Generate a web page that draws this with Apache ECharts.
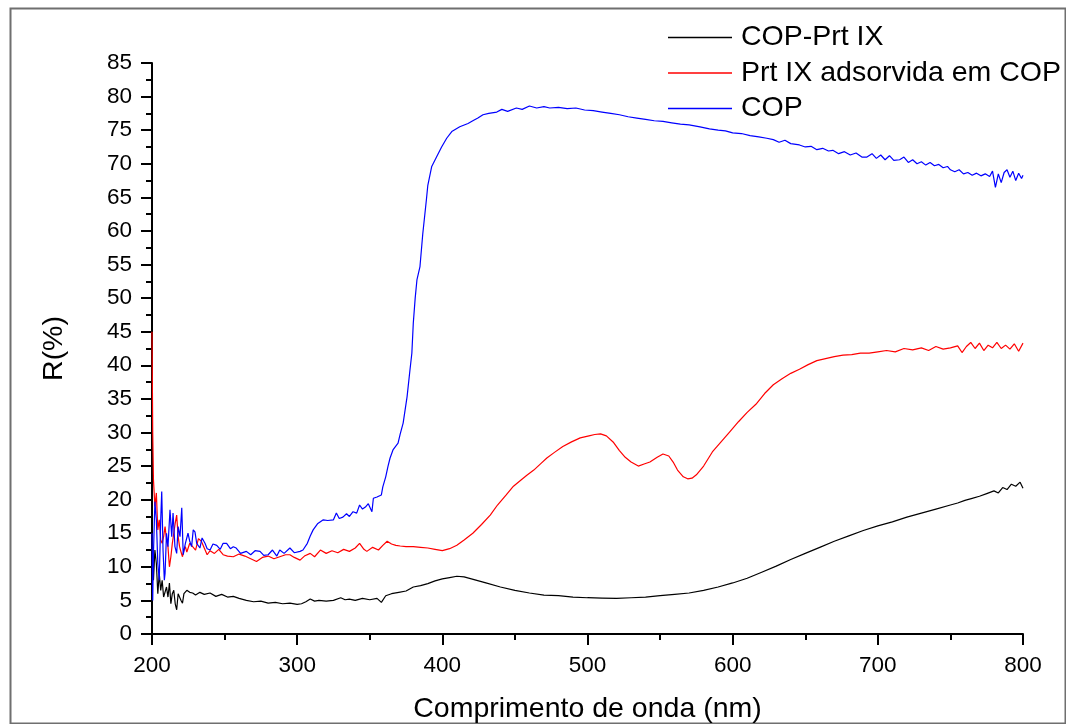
<!DOCTYPE html>
<html>
<head>
<meta charset="utf-8">
<script src="https://cdn.jsdelivr.net/npm/echarts@6/dist/echarts.min.js"></script>
<style>
html,body{margin:0;padding:0;background:#fff;}
#chart{width:1066px;height:724px;}
</style>
</head>
<body>
<div id="chart"></div>
<script>
var seriesNames = ['COP-Prt IX', 'Prt IX adsorvida em COP', 'COP'];
var xTitle = 'Comprimento de onda (nm)';
var yTitle = 'R(%)';

// COP-Prt IX (black)
var blackX = [200,201,202,203,204,205,206,207,208,209,210,211,212,213,214,215,216,217,218,219,220,221,222,224,226,228,230,233,236,240,244,248,252,256,260,265,270,275,280,285,290,295,300,303,306,309,312,315,320,325,330,333,336,340,345,350,355,358,361,365,370,375,380,385,390,395,400,405,410,415,420,425,430,440,450,460,470,480,490,500,510,520,530,540,550,560,570,580,590,600,610,620,630,640,650,660,670,680,690,700,710,720,730,740,750,755,760,765,770,775,780,783,786,789,792,795,798,800];
var blackY = [15,8,12.5,10.5,6,9,6.5,8,5.5,5.6,7,5.5,7.6,4.5,6,6.5,4.5,3.6,6,6.1,5,4.6,6,6.5,6.2,6.1,5.8,6.2,5.9,6.1,5.6,5.9,5.5,5.6,5.3,5.0,4.8,4.9,4.6,4.7,4.5,4.6,4.4,4.5,4.8,5.2,4.9,5.0,4.9,5.0,5.4,5.1,5.2,5.0,5.3,5.1,5.3,4.7,5.7,6.0,6.2,6.4,7.0,7.2,7.5,7.9,8.2,8.4,8.6,8.5,8.2,7.9,7.6,7.0,6.5,6.1,5.8,5.7,5.5,5.4,5.35,5.3,5.4,5.5,5.7,5.9,6.1,6.5,7.0,7.6,8.3,9.2,10.1,11.1,12.0,12.9,13.8,14.6,15.4,16.1,16.7,17.4,18.0,18.6,19.2,19.5,19.9,20.2,20.5,20.9,21.3,21.0,21.8,21.5,22.3,22.0,22.6,21.7];

// Prt IX adsorvida em COP (red)
var redX = [200,200.5,201,202,203,204,205,206,207,208,209,210,211,212,213,214,215,216,217,218,219,220,221,222,223,224,226,228,230,232,234,236,238,240,243,246,249,252,256,260,264,268,272,276,280,284,288,292,295,298,302,305,309,312,316,320,324,328,332,336,340,343,346,348,352,356,359,362,365,368,371,375,380,385,390,395,400,405,410,415,421,427,433,438,444,449,454,458,463,468,472,477,483,489,495,501,505,509,513,518,522,526,530,535,539,543,548,552,556,559,562,566,569,572,575,580,586,592,598,604,610,616,622,628,634,640,646,652,658,664,670,676,682,688,694,700,706,712,718,724,730,735,740,745,750,755,758,761,764,767,770,773,776,779,782,785,788,791,794,797,800];
var redY = [45,30,23,19,21,15.5,17,14,13.5,14.5,16,14,13,10,11.5,13.5,15,16.5,17.7,14.5,13,12.2,11.5,12.5,13,12.2,13.5,13,12.5,14.2,13.8,12.8,11.8,12.4,12.0,12.6,11.8,11.6,11.5,11.9,11.6,11.2,10.8,11.4,11.6,11.2,11.5,11.8,11.8,11.4,11.0,11.6,12.0,11.5,12.5,12.0,12.4,12.1,12.6,12.3,12.8,13.5,12.6,12.3,12.9,12.5,13.2,13.8,13.4,13.2,13.1,13.0,13.0,12.9,12.8,12.6,12.4,12.7,13.2,14.0,15.0,16.3,17.7,19.2,20.7,22.0,22.9,23.6,24.4,25.4,26.2,27.0,27.9,28.6,29.2,29.5,29.7,29.8,29.5,28.5,27.3,26.3,25.6,25.0,25.3,25.6,26.3,26.8,26.5,25.6,24.4,23.4,23.1,23.2,23.7,25.0,27.1,28.6,30.1,31.6,33.0,34.2,35.8,37.1,38.0,38.8,39.4,40.1,40.7,41.0,41.3,41.5,41.6,41.8,41.8,42.0,42.2,42.0,42.5,42.3,42.6,42.2,42.8,42.4,42.6,42.9,41.9,42.8,43.4,42.5,43.3,42.2,43.0,42.6,43.4,42.5,43.0,42.4,43.2,42.1,43.3];

// COP (blue)
var blueX = [200,200.5,201,202,203,204,205,206,206.7,207.6,208.5,209,210,211,212.4,213.6,214.5,215.8,217,218,219.3,220.5,221.5,223,224.8,226,227.3,228.4,229.6,230.8,233,234.5,236.5,238,240,242,244.6,247,249,251.4,254,256,258,261,265,268,271,274.4,277,280,283,286,288,291,295,298,302,304,307,309,311,314,318,321,325,327,329,331.5,334,336,338.5,341,343,345,347,349,351.5,352.5,355,358,359,361,362.6,364,366,369.5,371,373,375.7,377.7,379,380,381.3,382.5,384.6,386.5,389,390,392.7,396,399.5,403,406.5,412,417.7,421,424.5,428,432,437.5,441,445,451,455,460,465,470,474,480,486,492,498,504,510,516,522,528,534,540,546,552,558,564,570,577.5,584,590,595,600,606,612,618,623.5,628,632,636,640,646,650,654,658,662,666,669,673,677,681,685,689,692.5,696,699,702,705,708,711,715,718,721,724,727,730,733,736,739,742,745,748,750,753,756,759,762,765,768,771,774,777,779,781,783,785,787,789,791,793,795,797,799,800];
var blueY = [15,5,12,19.7,17,10.5,8,17,21.2,12.5,8,9,15,13,18.5,14.5,18,13,12,16,14.5,18.8,11.8,13.5,15,13.8,13,15.5,15.2,13.5,12.8,14.3,13.5,12.7,12.5,13.4,13.2,12.6,13.5,13.5,12.7,13.0,12.8,12.0,12.3,11.8,12.4,12.3,11.7,11.8,12.5,11.6,12.5,12.0,12.8,12.1,12.3,12.5,13.5,14.6,15.5,16.4,17.0,16.9,17.0,18.0,17.2,17.4,17.9,17.5,18.2,18.0,19.2,18.6,18.9,19.4,18.2,20.2,20.4,20.7,21.9,23.4,25.0,26.2,27.4,28.4,29.8,31.4,35.3,39.3,41.8,46.3,50,52.7,54.7,59.5,64.6,66.8,69.6,71,72.5,73.8,74.8,75.5,76,76.4,76.8,77.3,77.5,77.7,78.1,77.8,78.3,78.1,78.6,78.3,78.5,78.3,78.4,78.2,78.3,78.0,77.9,77.7,77.5,77.3,77.0,76.8,76.6,76.4,76.3,76.1,75.9,75.8,75.5,75.2,75.0,74.9,74.6,74.5,74.2,74.0,73.8,73.6,73.2,73.5,73.0,72.8,72.5,72.6,72.1,72.3,71.9,72.0,71.5,71.8,71.3,71.6,71.0,71.0,71.5,70.8,71.3,70.6,71.2,70.5,70.6,71.0,70.2,70.6,70.0,70.3,69.8,70.2,69.7,69.9,69.4,69.6,69.1,68.8,69.1,68.5,68.7,68.3,68.6,68.2,68.5,68.1,68.9,66.5,68.5,67.2,68.7,69.1,68.0,68.9,67.5,68.6,67.8,68.3];

function pairs(xs, ys){ return xs.map(function(x,i){ return [x, ys[i]]; }); }

var FONT = "'Liberation Sans', Arial, sans-serif";
var LEGEND_LINE = 'path://M0,0 L64,0 L64,1.3 L0,1.3 Z';
var chart = echarts.init(document.getElementById('chart'), null, {renderer:'canvas'});
chart.setOption({
  backgroundColor: '#ffffff',
  animation: false,
  graphic: [{
    type: 'rect', left: 8, top: 6, z: -1, silent: true,
    shape: {x: 0, y: 0, width: 1055, height: 715},
    style: {fill: 'none', stroke: '#6f6f6f', lineWidth: 2}
  }],
  grid: {left: 152, right: 43, top: 63, bottom: 90, containLabel: false, outerBoundsMode: 'none'},
  legend: {
    orient: 'vertical', left: 663, top: 18, itemWidth: 64, itemHeight: 14, itemGap: 6.5,
    icon: LEGEND_LINE,
    textStyle: {fontFamily: FONT, fontSize: 28.5, color: '#000', lineHeight: 28.5, padding: [0, 0, 0, 4]},
    data: seriesNames
  },
  xAxis: {
    type: 'value', min: 200, max: 800, interval: 100,
    name: xTitle, nameLocation: 'middle', nameGap: 61,
    nameTextStyle: {fontFamily: FONT, fontSize: 28.5, color: '#000'},
    axisLine: {show: true, onZero: false, lineStyle: {color: '#000', width: 2}},
    axisTick: {show: true, inside: false, length: 11, lineStyle: {color: '#000', width: 2}},
    minorTick: {show: true, splitNumber: 2, length: 6, lineStyle: {color: '#000', width: 2}},
    axisLabel: {fontFamily: FONT, fontSize: 22.5, color: '#000', margin: 20},
    splitLine: {show: false}
  },
  yAxis: {
    type: 'value', min: 0, max: 85, interval: 5,
    name: yTitle, nameLocation: 'middle', nameGap: 83,
    nameTextStyle: {fontFamily: FONT, fontSize: 28.5, color: '#000'},
    axisLine: {show: true, onZero: false, lineStyle: {color: '#000', width: 2}},
    axisTick: {show: true, inside: false, length: 11, lineStyle: {color: '#000', width: 2}},
    minorTick: {show: true, splitNumber: 2, length: 6, lineStyle: {color: '#000', width: 2}},
    axisLabel: {fontFamily: FONT, fontSize: 22.5, color: '#000', margin: 20},
    splitLine: {show: false}
  },
  series: [
    {name: seriesNames[0], type: 'line', symbol: 'none', showSymbol: false, data: pairs(blackX, blackY),
     lineStyle: {color: '#000000', width: 1.2}, itemStyle: {color: '#000000'}, clip: true},
    {name: seriesNames[1], type: 'line', symbol: 'none', showSymbol: false, data: pairs(redX, redY),
     lineStyle: {color: '#ff0000', width: 1.2}, itemStyle: {color: '#ff0000'}, clip: true},
    {name: seriesNames[2], type: 'line', symbol: 'none', showSymbol: false, data: pairs(blueX, blueY),
     lineStyle: {color: '#0000ff', width: 1.2}, itemStyle: {color: '#0000ff'}, clip: true}
  ]
});
</script>
</body>
</html>
